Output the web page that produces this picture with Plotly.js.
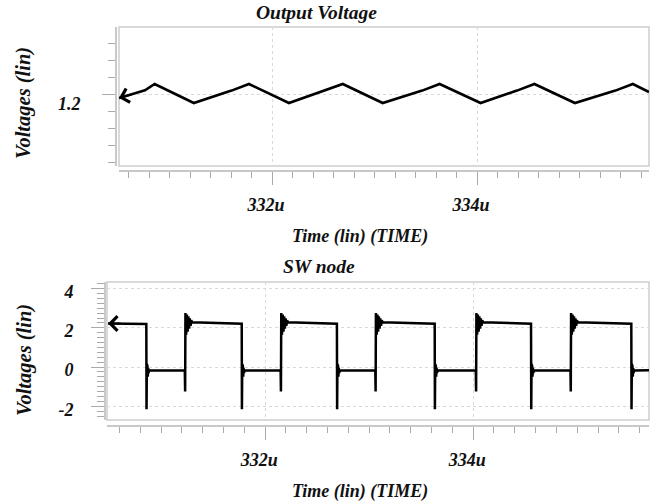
<!DOCTYPE html>
<html>
<head>
<meta charset="utf-8">
<script src="https://cdn.plot.ly/plotly-3.0.1.min.js"></script>
<style>html,body{margin:0;padding:0;background:#fff;}#chart{width:668px;height:504px;}</style>
</head>
<body>
<div id="chart"></div>
<script>
// ---- Output voltage (top panel) ----
const tOut = [330.507, 330.760, 330.855, 331.237, 331.605, 331.775, 332.165, 332.520, 332.690,
              333.080, 333.465, 333.635, 334.035, 334.390, 334.560, 334.955, 335.350, 335.520, 335.678];
const vOut = [1.1976, 1.2022, 1.2059, 1.1947, 1.2020, 1.2059, 1.1947, 1.2020, 1.2059,
              1.1947, 1.2020, 1.2059, 1.1947, 1.2020, 1.2059, 1.1947, 1.2020, 1.2059, 1.2012];

// ---- SW node (bottom panel) ----
const tSw = [
  330.490, 330.858, 330.860, 330.863, 330.866, 330.869, 330.872, 330.876, 330.880, 330.886,
  331.228, 331.231, 331.234, 331.241, 331.248, 331.255, 331.262, 331.269, 331.276, 331.283, 331.290, 331.298,
  331.775, 331.777, 331.780, 331.783, 331.786, 331.789, 331.793, 331.797, 331.803,
  332.149, 332.152, 332.155, 332.162, 332.169, 332.176, 332.183, 332.190, 332.197, 332.204, 332.211, 332.219,
  332.690, 332.692, 332.695, 332.698, 332.701, 332.704, 332.708, 332.712, 332.718,
  333.059, 333.062, 333.065, 333.072, 333.079, 333.086, 333.093, 333.100, 333.107, 333.114, 333.121, 333.129,
  333.630, 333.632, 333.635, 333.638, 333.641, 333.644, 333.648, 333.652, 333.658,
  334.025, 334.028, 334.031, 334.038, 334.045, 334.052, 334.059, 334.066, 334.073, 334.080, 334.087, 334.095,
  334.556, 334.558, 334.561, 334.564, 334.567, 334.570, 334.574, 334.578, 334.584,
  334.935, 334.938, 334.941, 334.948, 334.955, 334.962, 334.969, 334.976, 334.983, 334.990, 334.997, 335.005,
  335.520, 335.522, 335.525, 335.528, 335.531, 335.534, 335.538, 335.542, 335.548,
  335.690];
const vSw = [
  2.22, 2.20, -2.15, 0.15, -0.75, 0.05, -0.50, -0.05, -0.30, -0.18,
  -0.17, -1.25, 2.75, 1.65, 2.68, 1.80, 2.58, 1.95, 2.48, 2.10, 2.38, 2.28,
  2.21, -2.15, 0.15, -0.75, 0.05, -0.50, -0.05, -0.30, -0.18,
  -0.17, -1.25, 2.75, 1.65, 2.68, 1.80, 2.58, 1.95, 2.48, 2.10, 2.38, 2.28,
  2.21, -2.15, 0.15, -0.75, 0.05, -0.50, -0.05, -0.30, -0.18,
  -0.17, -1.25, 2.75, 1.65, 2.68, 1.80, 2.58, 1.95, 2.48, 2.10, 2.38, 2.28,
  2.21, -2.15, 0.15, -0.75, 0.05, -0.50, -0.05, -0.30, -0.18,
  -0.17, -1.25, 2.75, 1.65, 2.68, 1.80, 2.58, 1.95, 2.48, 2.10, 2.38, 2.28,
  2.21, -2.15, 0.15, -0.75, 0.05, -0.50, -0.05, -0.30, -0.18,
  -0.17, -1.25, 2.75, 1.65, 2.68, 1.80, 2.58, 1.95, 2.48, 2.10, 2.38, 2.28,
  2.21, -2.15, 0.15, -0.75, 0.05, -0.50, -0.05, -0.30, -0.18,
  -0.17];

// ---- tick labels ----
const xTickVals = [332, 334];
const xTickText = ['332u', '334u'];
const yOutTickVals = [1.2];
const yOutTickText = ['1.2'];
const ySwTickVals = [-2, 0, 2, 4];
const ySwTickText = ['-2', '0', '2', '4'];

// ---- texts ----
const titleTop = 'Output Voltage';
const titleBottom = 'SW node';
const xTitle = 'Time (lin) (TIME)';
const yTitle = 'Voltages (lin)';

const SERIF = 'Liberation Serif, Times New Roman, serif';
const lblFont = {family: SERIF, size: 18, color: '#111', weight: 'bold', style: 'italic'};
const ttlFont = {family: SERIF, size: 19.5, color: '#111', weight: 'bold', style: 'italic'};
const yTtlFont = {family: SERIF, size: 20.5, color: '#111', weight: 'bold', style: 'italic'};
const W = 668, H = 504;

const traces = [
  {x: tOut, y: vOut, xaxis: 'x', yaxis: 'y', type: 'scatter', mode: 'lines',
   line: {color: '#000', width: 2.6}, hoverinfo: 'skip'},
  {x: tSw, y: vSw, xaxis: 'x2', yaxis: 'y2', type: 'scatter', mode: 'lines',
   line: {color: '#000', width: 2.5}, hoverinfo: 'skip'}
];

function xAxis(domain, pos, range) {
  return {
    domain: domain, anchor: 'free', position: pos, range: range,
    tickmode: 'array', tickvals: xTickVals, ticktext: xTickText,
    ticks: 'outside', ticklen: 13, tickwidth: 1, tickcolor: '#aaa',
    showline: true, linecolor: '#c8c8c8', linewidth: 1.5,
    showgrid: true, gridcolor: '#d9d9d9', gridwidth: 1, griddash: '3px,3px',
    zeroline: false, tickfont: lblFont, ticklabelstandoff: 5, ticklabelshift: -6,
    minor: {tickmode: 'linear', tick0: 332, dtick: 0.2, ticks: 'outside', ticklen: 6,
            tickcolor: '#aaa', tickwidth: 1, showgrid: false}
  };
}

const layout = {
  width: W, height: H,
  margin: {l: 0, r: 0, t: 0, b: 0},
  paper_bgcolor: '#fff', plot_bgcolor: '#fff',
  showlegend: false,
  xaxis: xAxis([119 / W, 649 / W], 1 - 170 / H, [330.507, 335.678]),
  xaxis2: xAxis([107 / W, 649 / W], 1 - 425 / H, [330.48, 335.69]),
  yaxis: {
    domain: [1 - 166 / H, 1 - 27 / H], anchor: 'free', position: 115 / W,
    range: [1.15765, 1.23941],
    tickmode: 'array', tickvals: yOutTickVals, ticktext: yOutTickText,
    ticks: 'outside', ticklen: 13, tickwidth: 1, tickcolor: '#aaa',
    showline: true, linecolor: '#c8c8c8', linewidth: 1.5,
    showgrid: true, gridcolor: '#d9d9d9', gridwidth: 1, griddash: '3px,3px',
    zeroline: false, tickfont: lblFont, ticklabelstandoff: 18, ticklabelshift: 10,
    minor: {tickmode: 'linear', tick0: 1.2, dtick: 0.01, ticks: 'outside', ticklen: 7,
            tickcolor: '#aaa', tickwidth: 1, showgrid: false}
  },
  yaxis2: {
    domain: [1 - 420 / H, 1 - 282 / H], anchor: 'free', position: 104 / W,
    range: [-2.704, 4.337],
    tickmode: 'array', tickvals: ySwTickVals, ticktext: ySwTickText,
    ticks: 'outside', ticklen: 13, tickwidth: 1, tickcolor: '#aaa',
    showline: true, linecolor: '#c8c8c8', linewidth: 1.5,
    showgrid: true, gridcolor: '#d9d9d9', gridwidth: 1, griddash: '3px,3px',
    zeroline: false, tickfont: lblFont, ticklabelstandoff: 14, ticklabelshift: 3,
    minor: {tickmode: 'linear', tick0: 0, dtick: 0.25, ticks: 'outside', ticklen: 7,
            tickcolor: '#aaa', tickwidth: 1, showgrid: false}
  },
  shapes: [
    {type: 'rect', xref: 'x domain', yref: 'y domain', x0: 0, x1: 1, y0: 0, y1: 1,
     line: {color: '#cdcdcd', width: 1.5}, fillcolor: 'rgba(0,0,0,0)', layer: 'below'},
    {type: 'rect', xref: 'x2 domain', yref: 'y2 domain', x0: 0, x1: 1, y0: 0, y1: 1,
     line: {color: '#cdcdcd', width: 1.5}, fillcolor: 'rgba(0,0,0,0)', layer: 'below'}
  ],
  annotations: [
    {text: titleTop, xref: 'paper', yref: 'paper', x: 316 / W, y: 1 - 12 / H,
     showarrow: false, xanchor: 'center', yanchor: 'middle', font: ttlFont},
    {text: xTitle, xref: 'paper', yref: 'paper', x: 360 / W, y: 1 - 236 / H,
     showarrow: false, xanchor: 'center', yanchor: 'middle', font: lblFont},
    {text: yTitle, xref: 'paper', yref: 'paper', x: 24 / W, y: 1 - 103 / H, textangle: -90,
     showarrow: false, xanchor: 'center', yanchor: 'middle', font: yTtlFont},
    {text: titleBottom, xref: 'paper', yref: 'paper', x: 319 / W, y: 1 - 266 / H,
     showarrow: false, xanchor: 'center', yanchor: 'middle', font: ttlFont},
    {text: xTitle, xref: 'paper', yref: 'paper', x: 360 / W, y: 1 - 491 / H,
     showarrow: false, xanchor: 'center', yanchor: 'middle', font: lblFont},
    {text: yTitle, xref: 'paper', yref: 'paper', x: 24 / W, y: 1 - 360 / H, textangle: -90,
     showarrow: false, xanchor: 'center', yanchor: 'middle', font: yTtlFont},
    // start-of-trace arrow markers
    {text: '', xref: 'x', yref: 'y', x: tOut[0], y: vOut[0], showarrow: true,
     arrowhead: 4, arrowsize: 1.4, arrowwidth: 2, arrowcolor: '#000', ax: 14, ay: -4, standoff: 0},
    {text: '', xref: 'x2', yref: 'y2', x: tSw[0], y: vSw[0], showarrow: true,
     arrowhead: 4, arrowsize: 1.4, arrowwidth: 2, arrowcolor: '#000', ax: 14, ay: 0, standoff: 0}
  ]
};

Plotly.newPlot('chart', traces, layout, {staticPlot: true, displayModeBar: false});
</script>
</body>
</html>
